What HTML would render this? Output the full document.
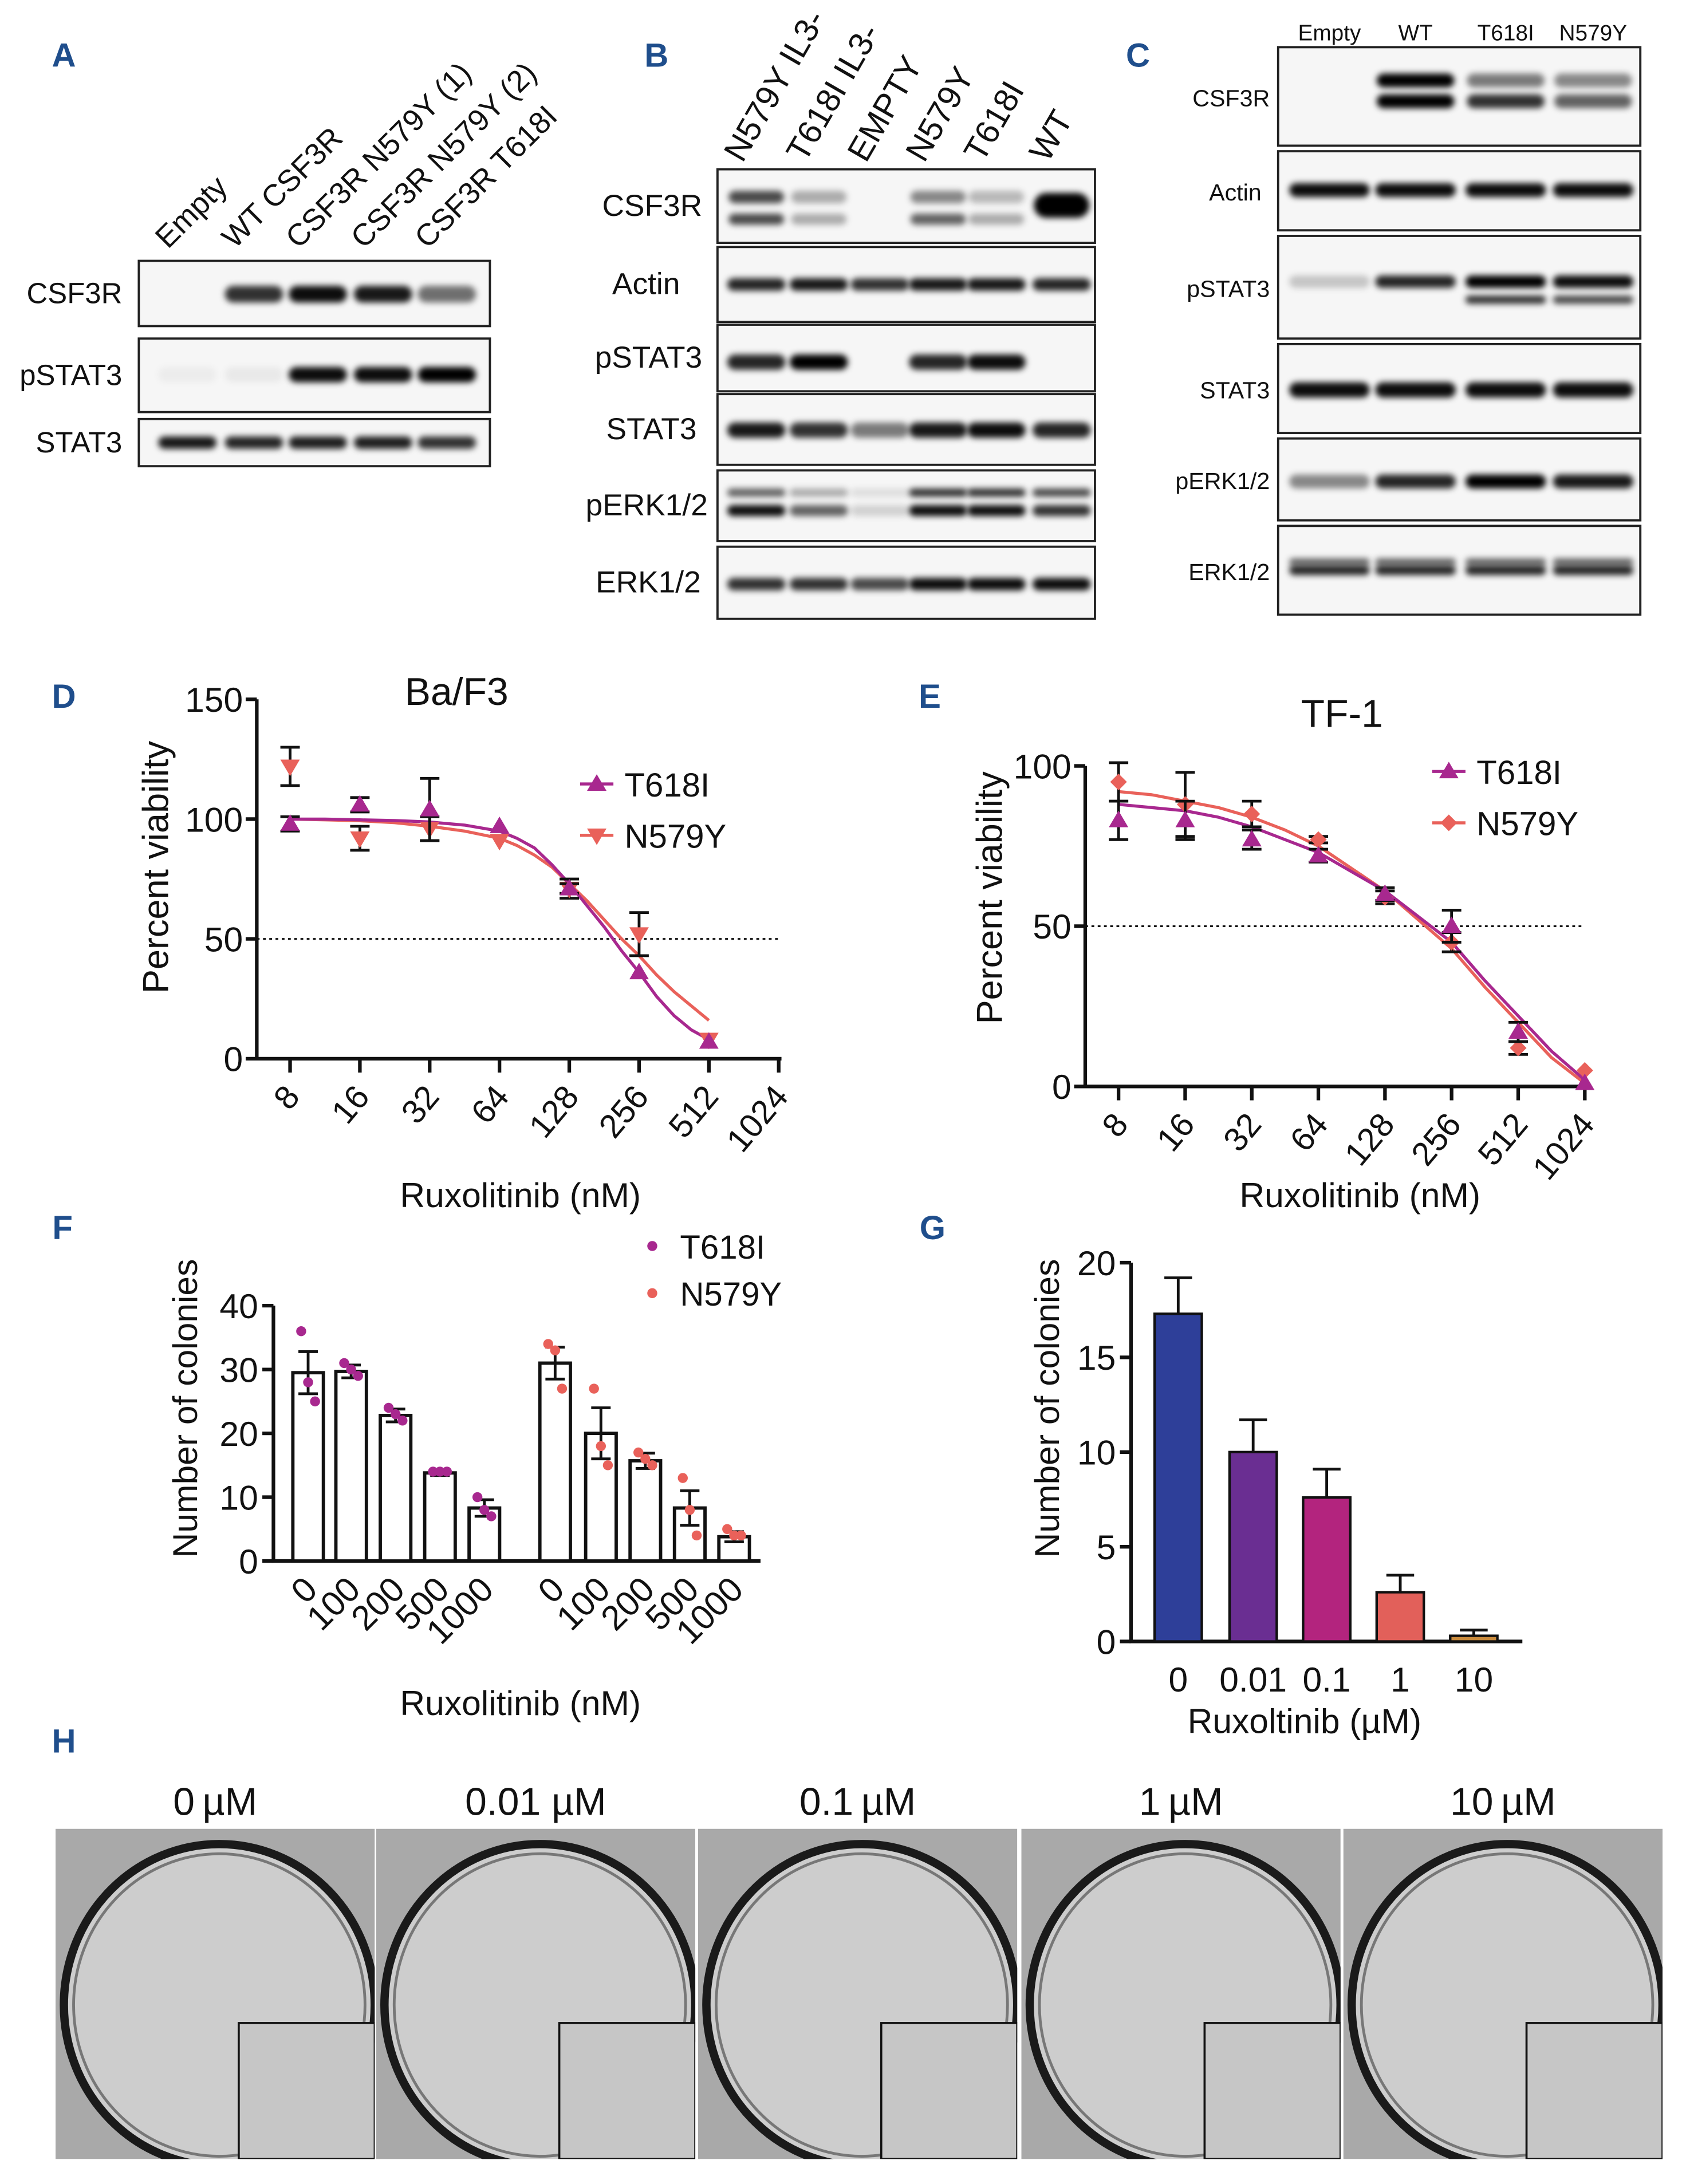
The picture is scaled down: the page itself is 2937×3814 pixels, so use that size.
<!DOCTYPE html>
<html><head><meta charset="utf-8"><style>
html,body{margin:0;padding:0;background:#fff}
svg{display:block}
text{font-family:"Liberation Sans",sans-serif}
</style></head><body>
<svg id="fig" xmlns="http://www.w3.org/2000/svg" width="2937" height="3814" viewBox="0 0 1212 1574">
<defs>
<filter id="blur" x="-30%" y="-100%" width="160%" height="300%"><feGaussianBlur stdDeviation="2.2"/></filter>
</defs>
<g id="root"></g>
</svg>
<script>
// ---------- DATA ----------
const ticksD = ["8","16","32","64","128","256","512","1024"];
const dT618I = [98,106,104,97,71,36,7];
const dT618Ierr = [3,3,13,0,2,0,0];
const dN579Y = [122,92,96,91,71,52,8];
const dN579Yerr = [8,5,5,0,4,9,0];
const curveLog = [3,3.5,4,4.5,5,5.5,6,6.25,6.5,6.75,7,7.25,7.5,7.75,8,8.25,8.5,8.75,9];
const dCurveT = [100,100,99.7,99.4,98.8,97.5,95,92,88,81,73,64,55,45,36,26,18,12,8];
const dCurveN = [100,99.7,99.3,98.5,97,95,92,89,85,80,73,66,58,50,43,35,28,22,16];

const eT618I = [83,83,77,72,60,50,17,1];
const eT618Ierr = [6,6,3,2,2,5,3,0];
const eN579Y = [95,88,85,77,59,45,12,5];
const eN579Yerr = [6,10,4,1,2,3,2,0];
const eCurveLog = [3,3.5,4,4.5,5,5.5,6,6.5,7,7.5,8,8.5,9,9.5,10];
const eCurveT = [88,87,86,84,81,77,73,67,61,53,45,33,22,11,2];
const eCurveN = [92,91,89,87,84,80,75,68,61,52,43,31,20,9,1];

const fDoses = ["0","100","200","500","1000"];
const fT618I = [29.5,29.7,22.8,13.8,8.3];
const fT618Ierr = [3.3,1,1,0.4,1.3];
const fT618Ipts = [[36,28,25],[31,30,29],[24,23,22],[14,14,14],[10,8,7]];
const fN579Y = [31,20,15.7,8.3,3.8];
const fN579Yerr = [2.5,4,1.2,2.7,0.8];
const fN579Ypts = [[34,33,27],[27,18,15],[17,16,15],[13,8,4],[5,4,4]];

const gDoses = ["0","0.01","0.1","1","10"];
const gValues = [17.3,10,7.6,2.6,0.3];
const gErr = [1.9,1.7,1.5,0.9,0.3];

const hLabels = ["0\u2009\u00b5M","0.01 \u00b5M","0.1\u2009\u00b5M","1\u2009\u00b5M","10\u2009\u00b5M"];

const PURPLE="#a8288f", SALMON="#e9615a", BLUE="#1f4e8c";
const NS="http://www.w3.org/2000/svg";
const root=document.getElementById('root');
function el(tag,attrs,parent,txt){const e=document.createElementNS(NS,tag);for(const k in attrs)e.setAttribute(k,attrs[k]);if(txt!==undefined)e.textContent=txt;(parent||root).appendChild(e);return e;}
function grp(name){const g=el('g',{});return g;}
function txt(p,x,y,s,size,opt){opt=opt||{};const t=el('text',{x:x,y:y,'font-size':size,fill:opt.fill||'#111','text-anchor':opt.anchor||'middle','font-weight':opt.weight||'normal'},p,s);if(opt.rot!==undefined)t.setAttribute('transform','rotate('+opt.rot+' '+x+' '+y+')');return t;}
function panelLabel(L,x,y){const g=grp('panel-label-'+L.toLowerCase());txt(g,x,y,L,24,{fill:BLUE,weight:'bold',name:'panel-label-'+L.toLowerCase()});}

// ---------- BLOTS ----------
function blot(name,x0,x1,y0,y1,label,labelX,lanes,w,bands,size){
  const g=grp('blot-'+name);
  const r=el('rect',{x:x0,y:y0,width:x1-x0,height:y1-y0,fill:'#f6f6f6',stroke:'#222','stroke-width':1.6},g);
  
  txt(g,labelX,(y0+y1)/2+7,label,size||20,{anchor:'end',name:'blot-row-label'});
  bands.forEach(b=>{
    b[2].forEach((v,i)=>{ if(v<=0)return;
      const r2=el('rect',{x:lanes[i]-w/2,y:b[0]-b[1]/2,width:w,height:b[1],rx:b[1]/2,fill:'#000','fill-opacity':v,filter:'url(#blur)'},g);
      });
  });
}
panelLabel('A',46,48);
const lanesA=[135,183,229,276,322];
const headA=["Empty","WT CSF3R","CSF3R N579Y (1)","CSF3R N579Y (2)","CSF3R T618I"];
{const g=grp('lane-headers-a');headA.forEach((h,i)=>txt(g,lanesA[i]-14,180,h,22,{anchor:'start',rot:-45,name:'lane-header'}));}
blot('a-csf3r',100,353,188,235,'CSF3R',88,lanesA,42,[[212,12,[0,0.8,0.95,0.9,0.55]]],21);
blot('a-pstat3',100,353,244,297,'pSTAT3',88,lanesA,42,[[270,11,[0.04,0.05,0.95,0.95,1]]],21);
blot('a-stat3',100,353,302,336,'STAT3',88,lanesA,42,[[319,9,[0.9,0.85,0.88,0.88,0.8]]],21);

panelLabel('B',473,48);
const lanesB=[545,590,634,676,718,765];
const headB=["N579Y IL3-","T618I IL3-","EMPTY","N579Y","T618I","WT"];
{const g=grp('lane-headers-b');headB.forEach((h,i)=>txt(g,lanesB[i]-10,118,h,24,{anchor:'start',rot:-60,name:'lane-header'}));}
blot('b-csf3r',517,789,122,175,'CSF3R',506,lanesB,40,[[142,9,[0.7,0.3,0,0.45,0.25,0]],[158,8,[0.7,0.3,0,0.6,0.3,0]],[148,18,[0,0,0,0,0,1]]],22);
blot('b-actin',517,789,178,232,'Actin',490,lanesB,42,[[205,9,[0.85,0.9,0.8,0.9,0.9,0.85]]],22);
blot('b-pstat3',517,789,234,282,'pSTAT3',506,lanesB,42,[[261,11,[0.85,1,0,0.85,0.95,0]]],22);
blot('b-stat3',517,789,284,335,'STAT3',502,lanesB,42,[[310,11,[0.9,0.8,0.5,0.9,0.95,0.85]]],22);
blot('b-perk',517,789,339,390,'pERK1/2',510,lanesB,42,[[355,6,[0.6,0.3,0.1,0.8,0.8,0.7]],[368,8,[0.95,0.6,0.15,0.95,0.95,0.8]]],22);
blot('b-erk',517,789,394,446,'ERK1/2',505,lanesB,42,[[421,9,[0.8,0.8,0.7,0.95,0.95,0.95]]],22);

panelLabel('C',820,48);
const lanesC=[958,1020,1085,1148];
const headC=["Empty","WT","T618I","N579Y"];
{const g=grp('lane-headers-c');headC.forEach((h,i)=>txt(g,lanesC[i],29,h,16,{name:'lane-header'}));}
blot('c-csf3r',921,1182,34,105,'CSF3R',915,lanesC,56,[[58,10,[0,1,0.5,0.45]],[73,10,[0,1,0.8,0.6]]],17);
blot('c-actin',921,1182,109,166,'Actin',909,lanesC,58,[[137,10,[0.95,0.95,0.95,0.95]]],17);
blot('c-pstat3',921,1182,170,244,'pSTAT3',915,lanesC,58,[[203,9,[0.2,0.85,1,0.95]],[216,6,[0,0,0.8,0.7]]],17);
blot('c-stat3',921,1182,248,312,'STAT3',915,lanesC,58,[[281,11,[0.95,0.95,0.95,0.95]]],17);
blot('c-perk',921,1182,316,375,'pERK1/2',915,lanesC,58,[[347,10,[0.45,0.85,1,0.9]]],17);
blot('c-erk',921,1182,379,443,'ERK1/2',915,lanesC,58,[[405,5,[0.6,0.6,0.6,0.6]],[411,7,[0.85,0.85,0.85,0.85]]],17);

// ---------- DOSE RESPONSE ----------
function triUp(p,cx,cy,c){const s=7;const t=el('path',{d:`M${cx},${cy-s} L${cx+s},${cy+s*0.7} L${cx-s},${cy+s*0.7}Z`,fill:c},p);}
function triDn(p,cx,cy,c){const s=7;const t=el('path',{d:`M${cx},${cy+s} L${cx+s},${cy-s*0.7} L${cx-s},${cy-s*0.7}Z`,fill:c},p);}
function diamond(p,cx,cy,c){const s=6;const t=el('path',{d:`M${cx},${cy-s} L${cx+s},${cy} L${cx},${cy+s} L${cx-s},${cy}Z`,fill:c},p);}
function errBar(p,x,y1,y2){if(Math.abs(y1-y2)<1)return;const a=el('path',{d:`M${x},${y1}V${y2}M${x-7},${y1}H${x+7}M${x-7},${y2}H${x+7}`,stroke:'#111','stroke-width':2,fill:'none'},p);}

function doseChart(cfg){
  const g=grp(cfg.name);
  const X=l=>cfg.x0+(l-3)*cfg.dx, Y=v=>cfg.y0-(v/cfg.ymax)*(cfg.y0-cfg.ytop);
  const axes=el('path',{d:`M${cfg.x0-24},${cfg.ytop}V${cfg.y0}H${X(10)+2}`,stroke:'#111','stroke-width':2.6,fill:'none'},g);
  
  cfg.yticks.forEach(v=>{const t=el('path',{d:`M${cfg.x0-32},${Y(v)}H${cfg.x0-24}`,stroke:'#111','stroke-width':2.6},g);
    txt(g,cfg.x0-34,Y(v)+9,String(v),25,{anchor:'end',name:'y-tick-label'});});
  ticksD.forEach((s,i)=>{const x=X(3+i);const t=el('path',{d:`M${x},${cfg.y0}V${cfg.y0+10}`,stroke:'#111','stroke-width':2.6},g);
    txt(g,x+8,cfg.y0+28,s,24,{anchor:'end',rot:-50,name:'x-tick-label'});});
  const dl=el('path',{d:`M${cfg.x0-24},${Y(50)}H${X(10)}`,stroke:'#111','stroke-width':1.3,'stroke-dasharray':'2,2.5'},g);
  const line=(lg,vals,c,n)=>{const p=el('path',{d:lg.map((l,i)=>(i?'L':'M')+X(l)+','+Y(vals[i])).join(''),stroke:c,'stroke-width':2.2,fill:'none','stroke-linejoin':'round'},g);};
  line(cfg.cl,cfg.cN,SALMON,'fit-curve-n579y');line(cfg.cl,cfg.cT,PURPLE,'fit-curve-t618i');
  cfg.N.forEach((v,i)=>{errBar(g,X(3+i),Y(v+cfg.Ne[i]),Y(v-cfg.Ne[i]));cfg.mN(g,X(3+i),Y(v),SALMON);});
  cfg.T.forEach((v,i)=>{errBar(g,X(3+i),Y(v+cfg.Te[i]),Y(v-cfg.Te[i]));triUp(g,X(3+i),Y(v),PURPLE);});
  txt(g,cfg.title[0],cfg.title[1],cfg.title[2],28,{name:'chart-title'});
  txt(g,cfg.yl[0],cfg.yl[1],'Percent viability',26,{rot:-90,name:'y-axis-title'});
  txt(g,cfg.xl[0],cfg.xl[1],'Ruxolitinib (nM)',25,{name:'x-axis-title'});
  const lg=grp('legend');g.appendChild(lg);
  let [lx,ly]=cfg.leg;
  let a=el('path',{d:`M${lx},${ly}H${lx+24}`,stroke:PURPLE,'stroke-width':2.2},lg);
  triUp(lg,lx+12,ly,PURPLE);txt(lg,lx+32,ly+9,'T618I',24,{anchor:'start',name:'legend-entry-t618i'});
  a=el('path',{d:`M${lx},${ly+37}H${lx+24}`,stroke:SALMON,'stroke-width':2.2},lg);
  cfg.mN(lg,lx+12,ly+37,SALMON);txt(lg,lx+32,ly+46,'N579Y',24,{anchor:'start',name:'legend-entry-n579y'});
}
panelLabel('D',46,510);
doseChart({name:'chart-baf3',x0:209,dx:50.3,y0:763,ytop:504,ymax:150,yticks:[0,50,100,150],cl:curveLog,cT:dCurveT,cN:dCurveN,
  T:dT618I,Te:dT618Ierr,N:dN579Y,Ne:dN579Yerr,mN:triDn,title:[329,508,'Ba/F3'],yl:[121,625],xl:[375,870],leg:[418,565]});
panelLabel('E',670,510);
doseChart({name:'chart-tf1',x0:806,dx:48,y0:783,ytop:552,ymax:100,yticks:[0,50,100],cl:eCurveLog,cT:eCurveT,cN:eCurveN,
  T:eT618I,Te:eT618Ierr,N:eN579Y,Ne:eN579Yerr,mN:diamond,title:[967,524,'TF-1'],yl:[722,647],xl:[980,870],leg:[1032,556]});

// ---------- F ----------
panelLabel('F',45,893);
{const g=grp('chart-colonies-f');
 const x0=197,y0=1125,Y=v=>y0-v*4.6;
 const cx1=[222,253,285,317,349],cx2=[400,433,465,497,529];
 const axes=el('path',{d:`M${x0},${Y(40)}V${y0}H${548}`,stroke:'#111','stroke-width':2.6,fill:'none'},g);
 [0,10,20,30,40].forEach(v=>{const t=el('path',{d:`M${x0-8},${Y(v)}H${x0}`,stroke:'#111','stroke-width':2.6},g);txt(g,x0-11,Y(v)+9,String(v),25,{anchor:'end',name:'y-tick-label'});});
 const drawSet=(cx,vals,errs,pts,c,nm)=>{vals.forEach((v,i)=>{
   const b=el('rect',{x:cx[i]-11,y:Y(v),width:22,height:y0-Y(v),fill:'#fff',stroke:'#111','stroke-width':2.4},g);
   errBar(g,cx[i],Y(v+errs[i]),Y(v-errs[i]));
   pts[i].forEach((p,j)=>{const d=el('circle',{cx:cx[i]+(j-1)*5,cy:Y(p),r:3.6,fill:c},g);});
   txt(g,cx[i]+8,y0+22,fDoses[i],25,{anchor:'end',rot:-45,name:'x-tick-label'});
 });};
 drawSet(cx1,fT618I,fT618Ierr,fT618Ipts,PURPLE,'t618i');
 drawSet(cx2,fN579Y,fN579Yerr,fN579Ypts,SALMON,'n579y');
 txt(g,142,1015,'Number of colonies',25,{rot:-90,name:'y-axis-title'});
 txt(g,375,1236,'Ruxolitinib (nM)',25,{name:'x-axis-title'});
 let d=el('circle',{cx:470,cy:898,r:3.6,fill:PURPLE},g);
 txt(g,490,907,'T618I',24,{anchor:'start',name:'legend-entry-t618i'});
 d=el('circle',{cx:470,cy:932,r:3.6,fill:SALMON},g);
 txt(g,490,941,'N579Y',24,{anchor:'start',name:'legend-entry-n579y'});
}

// ---------- G ----------
panelLabel('G',672,893);
{const g=grp('chart-colonies-g');
 const x0=815,y0=1183,Y=v=>y0-v*13.65;
 const cols=["#2e3f99","#6a2e92","#b3247e","#e2605a","#c98a3c"];
 const cx=[849,903,956,1009,1062];
 const axes=el('path',{d:`M${x0},${Y(20)}V${y0}H1097`,stroke:'#111','stroke-width':2.6,fill:'none'},g);
 [0,5,10,15,20].forEach(v=>{const t=el('path',{d:`M${x0-8},${Y(v)}H${x0}`,stroke:'#111','stroke-width':2.6},g);txt(g,x0-11,Y(v)+9,String(v),25,{anchor:'end',name:'y-tick-label'});});
 gValues.forEach((v,i)=>{
   const e=el('path',{d:`M${cx[i]},${Y(v)}V${Y(v+gErr[i])}M${cx[i]-10},${Y(v+gErr[i])}H${cx[i]+10}`,stroke:'#111','stroke-width':2},g);
   const b=el('rect',{x:cx[i]-17,y:Y(v),width:34,height:y0-Y(v),fill:cols[i],stroke:'#111','stroke-width':1.8},g);
   txt(g,cx[i],y0+36,gDoses[i],25,{name:'x-tick-label'});
 });
 txt(g,763,1015,'Number of colonies',25,{rot:-90,name:'y-axis-title'});
 txt(g,940,1249,'Ruxoltinib (\u00b5M)',25,{name:'x-axis-title'});
}

// ---------- H ----------
panelLabel('H',46,1263);
{const g=grp('colony-images');
 const xs=[40,271,503,736,968];
 xs.forEach((x,i)=>{const w=230,y=1318,h=238;
  const ig=grp('well-image-'+i);g.appendChild(ig);
  txt(ig,x+w/2,1308,hLabels[i],28,{name:'concentration-label'});
  const cp=el('clipPath',{id:'cp'+i},ig);el('rect',{x:x,y:y,width:w,height:h},cp);
  const inner=el('g',{'clip-path':'url(#cp'+i+')'},ig);
  let r=el('rect',{x:x,y:y,width:w,height:h,fill:'#a9a9a9'},inner);
  r=el('ellipse',{cx:x+w/2+3,cy:y+h/2+8,rx:w/2-3,ry:h/2-3,fill:'#cdcdcd',stroke:'#1a1a1a','stroke-width':6},inner);
  r=el('ellipse',{cx:x+w/2+3,cy:y+h/2+8,rx:w/2-10,ry:h/2-10,fill:'none',stroke:'#777','stroke-width':2},inner);
  r=el('rect',{x:x+w-98,y:y+h-98,width:98,height:98,fill:'#c6c6c6',stroke:'#111','stroke-width':1.5},inner);
 });
}
</script>
</body></html>
